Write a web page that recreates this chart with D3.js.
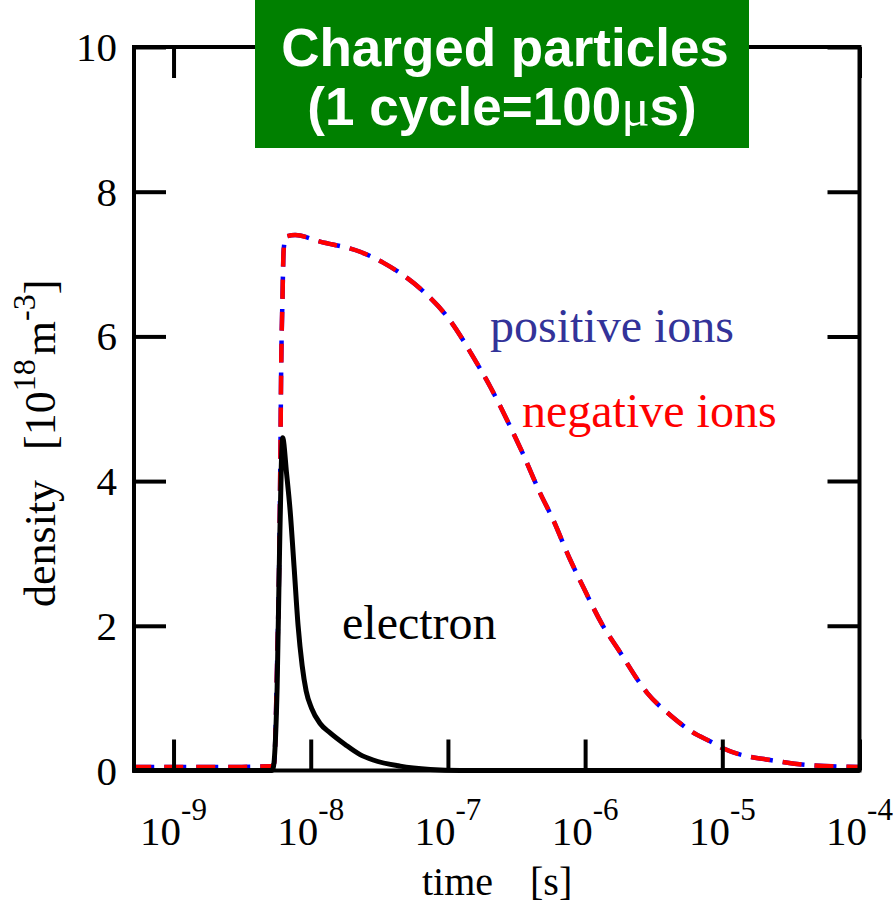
<!DOCTYPE html>
<html>
<head>
<meta charset="utf-8">
<script src="https://cdn.jsdelivr.net/npm/d3@7"></script>
<style>
  body { margin: 0; background: #fff; }
  svg { display: block; }
  text { font-family: "Liberation Serif", "Times New Roman", serif; }
</style>
</head>
<body>
<div id="chart"></div>
<script>
// time values [s] and densities [1e18 m^-3]
var ionTimes = [5e-10, 1e-9, 3e-9, 5.2e-9, 5.41e-9, 5.69e-9, 5.9e-9, 6.0e-9, 6.09e-9, 6.22e-9, 6.35e-9, 6.6e-9, 7.7e-9,
                1.17e-8, 2.29e-8, 3.37e-8, 6.82e-8, 9.9e-8, 1.58e-7, 2.04e-7, 2.85e-7, 3.48e-7, 4.71e-7, 5.77e-7,
                7.8e-7, 9.55e-7, 1.34e-6, 1.75e-6, 2.84e-6, 4.33e-6, 6.05e-6, 8.6e-6, 1e-5, 2.5e-5, 4.2e-5, 1e-4];
var positiveIons = [0.05, 0.05, 0.05, 0.06, 0.1, 1.5, 3.0, 4.2, 5.57, 6.5, 7.2, 7.38, 7.40,
                    7.31, 7.17, 7.02, 6.6, 6.27, 5.67, 5.30, 4.75, 4.40, 3.83, 3.49,
                    2.91, 2.56, 2.01, 1.67, 1.07, 0.74, 0.53, 0.38, 0.31, 0.13, 0.075, 0.05];
var negativeIons = [0.05, 0.05, 0.05, 0.06, 0.1, 1.5, 3.0, 4.2, 5.57, 6.5, 7.2, 7.38, 7.40,
                    7.31, 7.17, 7.02, 6.6, 6.27, 5.67, 5.30, 4.75, 4.40, 3.83, 3.49,
                    2.91, 2.56, 2.01, 1.67, 1.07, 0.74, 0.53, 0.38, 0.31, 0.13, 0.075, 0.05];

var electronTimes = [5e-10, 5.2e-9, 5.32e-9, 5.69e-9, 5.92e-9, 6.1e-9, 6.24e-9, 6.67e-9, 7.07e-9, 7.57e-9, 8.09e-9,
                     8.66e-9, 9.26e-9, 1.015e-8, 1.17e-8, 1.385e-8, 1.78e-8, 2.29e-8, 2.85e-8, 4.49e-8, 7.43e-8, 1.23e-7, 1e-4];
var electron = [0, 0, 0.03, 1.15, 3.0, 4.2, 4.6, 4.1, 3.6, 2.8, 2.0,
                1.45, 1.1, 0.86, 0.65, 0.52, 0.36, 0.22, 0.145, 0.06, 0.015, 0, 0];

var xTickExps = [-9, -8, -7, -6, -5, -4];
var yTicks = [0, 2, 4, 6, 8, 10];

var width = 894, height = 912;
// plot box (window.top is taken, so prefix the names)
var plotLeft = 134, plotRight = 859.5, plotTop = 47, plotBottom = 770.5;

var svg = d3.select("#chart")
            .append("svg")
            .attr("width", width)
            .attr("height", height);

// scales
var x = d3.scaleLog().domain([5.15e-10, 1e-4]).range([plotLeft, plotRight]);
var y = d3.scaleLinear().domain([0, 10]).range([plotBottom, plotTop]);

var line = d3.line()
             .x(function(d) { return x(d[0]); })
             .y(function(d) { return y(d[1]); })
             .curve(d3.curveMonotoneX);

function pairs(ts, vs) { return ts.map(function(t, i) { return [t, vs[i]]; }); }

// curves: positive ions (blue), negative ions (red) on top, electron (black)
svg.append("path")
   .attr("d", line(pairs(ionTimes, positiveIons)))
   .attr("fill", "none")
   .attr("stroke", "#0000ff")
   .attr("stroke-width", 4.5)
   .attr("stroke-dasharray", "22,10");

svg.append("path")
   .attr("d", line(pairs(ionTimes, negativeIons)))
   .attr("fill", "none")
   .attr("stroke", "#ff0000")
   .attr("stroke-width", 4.5)
   .attr("stroke-dasharray", "19,13");

svg.append("path")
   .attr("d", line(pairs(electronTimes, electron)))
   .attr("fill", "none")
   .attr("stroke", "#000")
   .attr("stroke-width", 5)
   .attr("stroke-linejoin", "round");

// inward ticks on all four sides
var tickVals = xTickExps.map(function(e) { return Math.pow(10, e); });

svg.append("g")
   .attr("transform", "translate(0," + plotBottom + ")")
   .call(d3.axisBottom(x).tickValues(tickVals).tickSizeInner(-31).tickSizeOuter(0).tickFormat(""));
svg.append("g")
   .attr("transform", "translate(0," + plotTop + ")")
   .call(d3.axisTop(x).tickValues(tickVals).tickSizeInner(-31).tickSizeOuter(0).tickFormat(""));
svg.append("g")
   .attr("transform", "translate(" + plotLeft + ",0)")
   .call(d3.axisLeft(y).tickValues(yTicks).tickSizeInner(-32).tickSizeOuter(0).tickFormat(""));
svg.append("g")
   .attr("transform", "translate(" + plotRight + ",0)")
   .call(d3.axisRight(y).tickValues(yTicks).tickSizeInner(-32).tickSizeOuter(0).tickFormat(""));

svg.selectAll(".domain").remove();
svg.selectAll(".tick line").attr("stroke", "#000").attr("stroke-width", 4);

// frame
svg.append("rect")
   .attr("x", plotLeft).attr("y", plotTop)
   .attr("width", plotRight - plotLeft).attr("height", plotBottom - plotTop)
   .attr("fill", "none")
   .attr("stroke", "#000")
   .attr("stroke-width", 4);

// x tick labels 10^n
var xl = svg.selectAll("text.xlab")
   .data(xTickExps)
   .enter()
   .append("text")
   .attr("class", "xlab")
   .attr("x", function(d) { return x(Math.pow(10, d)); })
   .attr("y", 845)
   .attr("text-anchor", "middle")
   .attr("font-size", "41px");
xl.append("tspan").text("10");
xl.append("tspan").attr("dy", -25).attr("font-size", "31px").text(function(d) { return d; });

// y tick labels
svg.selectAll("text.ylab")
   .data(yTicks)
   .enter()
   .append("text")
   .attr("class", "ylab")
   .attr("x", 117)
   .attr("y", function(d) { return y(d) + 14; })
   .attr("text-anchor", "end")
   .attr("font-size", "41px")
   .text(function(d) { return d; });

// axis titles
svg.append("text").attr("x", 422).attr("y", 895).attr("font-size", "40px").text("time");
svg.append("text").attr("x", 530).attr("y", 895).attr("font-size", "40px").text("[s]");

var yt = svg.append("text")
   .attr("transform", "translate(55,607) rotate(-90)")
   .attr("font-size", "44px");
yt.append("tspan").text("density");
yt.append("tspan").attr("dx", 30).text("[10");
yt.append("tspan").attr("dy", -20).attr("font-size", "32px").text("18");
yt.append("tspan").attr("dy", 20).attr("dx", 4).text("m");
yt.append("tspan").attr("dy", -20).attr("font-size", "32px").text("-3");
yt.append("tspan").attr("dy", 20).text("]");

// curve labels
svg.append("text").attr("x", 490).attr("y", 342).attr("font-size", "48px").attr("fill", "#333399").text("positive ions");
svg.append("text").attr("x", 522).attr("y", 427).attr("font-size", "48px").attr("fill", "#ff0000").text("negative ions");
svg.append("text").attr("x", 342).attr("y", 639).attr("font-size", "48px").attr("fill", "#000").text("electron");

// title box
svg.append("rect")
   .attr("x", 255).attr("y", 0)
   .attr("width", 494).attr("height", 148)
   .attr("fill", "#008000");

svg.append("text")
   .attr("x", 505).attr("y", 66)
   .attr("text-anchor", "middle")
   .attr("fill", "#fff")
   .attr("font-size", "53px")
   .attr("font-weight", "bold")
   .style("font-family", "'Liberation Sans', Arial, sans-serif")
   .text("Charged particles");

var t2 = svg.append("text")
   .attr("x", 502).attr("y", 125)
   .attr("text-anchor", "middle")
   .attr("fill", "#fff")
   .attr("font-size", "53px")
   .attr("font-weight", "bold")
   .style("font-family", "'Liberation Sans', Arial, sans-serif");
t2.append("tspan").text("(1 cycle=100");
t2.append("tspan").style("font-family", "'Liberation Serif', serif").attr("font-weight", "normal").text("\u03bc");
t2.append("tspan").text("s)");
</script>
</body>
</html>
